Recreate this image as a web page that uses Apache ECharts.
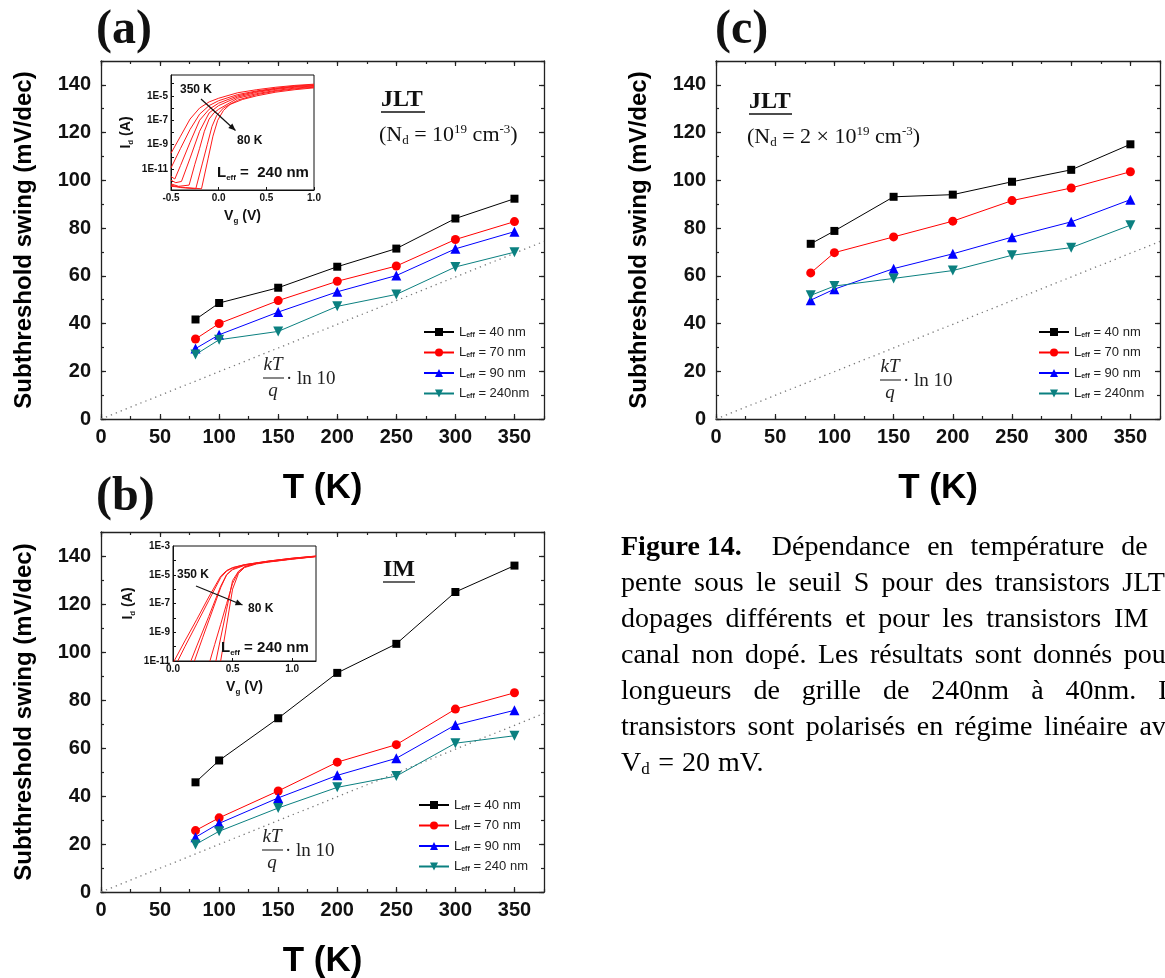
<!DOCTYPE html>
<html><head><meta charset="utf-8">
<script src="https://cdn.jsdelivr.net/npm/echarts@6/dist/echarts.min.js"></script>
<style>html,body{margin:0;padding:0;background:#fff}#c{width:1165px;height:978px}</style>
</head><body><div id="c"></div>
<script>
// ---------------- DATA ----------------
const T = [80, 100, 150, 200, 250, 300, 350];
// panel (a) JLT Nd=1e19
const a_L40  = [41.7, 48.6, 55.0, 63.8, 71.4, 84.0, 92.3];
const a_L70  = [33.5, 40.0, 49.6, 57.7, 64.1, 75.2, 82.7];
const a_L90  = [29.5, 35.3, 44.8, 53.3, 60.1, 71.3, 78.5];
const a_L240 = [27.0, 33.2, 36.7, 47.2, 52.2, 63.7, 69.9];
// panel (b) IM
const b_L40  = [45.7, 54.8, 72.4, 91.3, 103.4, 125.0, 136.0];
const b_L70  = [25.6, 30.9, 42.1, 54.1, 61.4, 76.2, 83.0];
const b_L90  = [22.8, 28.6, 39.2, 48.6, 55.7, 69.6, 75.7];
const b_L240 = [19.8, 25.3, 35.0, 43.6, 48.3, 62.0, 65.1];
// panel (c) JLT Nd=2e19
const c_L40  = [73.4, 78.8, 93.1, 94.0, 99.4, 104.4, 115.1];
const c_L70  = [61.2, 69.7, 76.3, 82.9, 91.5, 96.8, 103.6];
const c_L90  = [49.8, 54.4, 63.0, 69.2, 76.2, 82.6, 91.9];
const c_L240 = [51.8, 55.7, 58.9, 62.2, 68.6, 71.8, 81.2];
// kT/q ln10 reference line (end points)
const kTLine = [[0, 0], [375, 74.4]];
// legend labels
const legendA = ['40 nm', '70 nm', '90 nm', '240nm'];
const legendB = ['40 nm', '70 nm', '90 nm', '240 nm'];
const legendC = ['40 nm', '70 nm', '90 nm', '240nm'];
// main axis ticks
const xTicks = [0, 50, 100, 150, 200, 250, 300, 350];
const yTicks = [0, 20, 40, 60, 80, 100, 120, 140];
// inset (a): Id-Vg, JLT, [Vg (V), log10 Id (A)]
const insA_350 = [[-0.5,-9.7],[-0.4,-8.3],[-0.3,-6.9],[-0.2,-6.0],[-0.1,-5.5],[0,-5.2],[0.2,-4.75],[0.4,-4.5],[0.6,-4.3],[0.8,-4.15],[1.0,-4.05]];
const insA_300 = [[-0.5,-10.9],[-0.4,-9.3],[-0.3,-7.75],[-0.2,-6.5],[-0.1,-5.8],[0,-5.4],[0.2,-4.9],[0.4,-4.6],[0.6,-4.38],[0.8,-4.2],[1.0,-4.1]];
const insA_250 = [[-0.5,-11.6],[-0.46,-11.8],[-0.4,-10.7],[-0.3,-8.8],[-0.2,-7.0],[-0.1,-6.1],[0,-5.6],[0.2,-5.0],[0.4,-4.65],[0.6,-4.42],[0.8,-4.25],[1.0,-4.15]];
const insA_200 = [[-0.5,-11.9],[-0.45,-12.1],[-0.39,-12.0],[-0.3,-10.1],[-0.2,-7.9],[-0.1,-6.4],[0,-5.8],[0.2,-5.1],[0.4,-4.72],[0.6,-4.47],[0.8,-4.3],[1.0,-4.2]];
const insA_150 = [[-0.5,-12.2],[-0.42,-12.4],[-0.31,-12.3],[-0.25,-10.6],[-0.2,-9.3],[-0.15,-7.9],[-0.1,-6.9],[-0.05,-6.4],[0,-6.1],[0.2,-5.2],[0.4,-4.82],[0.6,-4.56],[0.8,-4.37],[1.0,-4.25]];
const insA_100 = [[-0.5,-12.3],[-0.4,-12.5],[-0.24,-12.6],[-0.17,-10.5],[-0.12,-9.0],[-0.07,-7.5],[-0.02,-6.6],[0.05,-6.0],[0.2,-5.35],[0.4,-4.9],[0.6,-4.62],[0.8,-4.43],[1.0,-4.3]];
const insA_80  = [[-0.5,-12.4],[-0.35,-12.5],[-0.18,-12.6],[-0.11,-10.1],[-0.06,-8.3],[-0.01,-7.0],[0.05,-6.2],[0.12,-5.7],[0.25,-5.3],[0.4,-5.0],[0.6,-4.7],[0.8,-4.5],[1.0,-4.35]];
// inset (b): Id-Vg, IM
const insB_350 = [[0,-11.15],[0.1,-9.6],[0.2,-8.1],[0.3,-6.55],[0.4,-5.1],[0.45,-4.7],[0.5,-4.5],[0.6,-4.3],[0.8,-4.05],[1.0,-3.85],[1.2,-3.7]];
const insB_300 = [[0.04,-11],[0.1,-10.0],[0.2,-8.4],[0.3,-6.8],[0.4,-5.2],[0.45,-4.75],[0.5,-4.52],[0.6,-4.3],[0.8,-4.05],[1.0,-3.85],[1.2,-3.7]];
const insB_250 = [[0.15,-11],[0.2,-9.95],[0.3,-7.9],[0.4,-5.8],[0.45,-5.0],[0.5,-4.6],[0.6,-4.32],[0.8,-4.07],[1.0,-3.87],[1.2,-3.72]];
const insB_200 = [[0.18,-11],[0.25,-9.35],[0.3,-8.2],[0.4,-5.9],[0.45,-5.0],[0.5,-4.65],[0.6,-4.35],[0.8,-4.08],[1.0,-3.88],[1.2,-3.72]];
const insB_150 = [[0.31,-11],[0.35,-9.85],[0.4,-8.45],[0.45,-7.0],[0.5,-5.6],[0.55,-4.8],[0.6,-4.45],[0.7,-4.2],[0.8,-4.1],[1.0,-3.9],[1.2,-3.73]];
const insB_100 = [[0.36,-11],[0.4,-9.4],[0.45,-7.4],[0.5,-5.4],[0.55,-4.75],[0.6,-4.45],[0.7,-4.22],[0.8,-4.1],[1.0,-3.9],[1.2,-3.73]];
const insB_80  = [[0.40,-11],[0.45,-8.5],[0.5,-6.0],[0.55,-4.9],[0.6,-4.5],[0.7,-4.25],[0.8,-4.12],[1.0,-3.92],[1.2,-3.74]];
const insA_xTicks = [-0.5, 0, 0.5, 1.0];
const insA_yTicks = [-11, -9, -7, -5];
const insA_yMinor = [-12, -11, -10, -9, -8, -7, -6, -5, -4];
const insB_xTicks = [0, 0.5, 1.0];
const insB_yTicks = [-11, -9, -7, -5, -3];
const insB_yMinor = [-10, -9, -8, -7, -6, -5, -4];
// caption
const captionLines = [
  'Dépendance en température de',
  'pente sous le seuil S pour des transistors JLT',
  'dopages différents et pour les transistors IM',
  'canal non dopé. Les résultats sont donnés pour',
  'longueurs de grille de 240nm à 40nm. Les',
  'transistors sont polarisés en régime linéaire avec',
  '= 20 mV.'
];

// ---------------- STYLE / LAYOUT ----------------
const SANS = '"Liberation Sans", Arial, sans-serif';
const SERIF = '"Liberation Serif", "Times New Roman", serif';
const AX = '#222';
const COLORS = ['#000000', '#ff0000', '#0000ff', '#0b8080'];
const SYMBOLS = ['rect', 'circle', 'triangle', 'path://M0,0 L10,0 L5,9 Z'];
const SIZES = [8, 9, 10, 10];

const mainGrids = [
  {left: 101, top: 61, width: 443, height: 358},
  {left: 101, top: 532, width: 443, height: 360},
  {left: 716, top: 61, width: 444, height: 358}
];
const insetGrids = [
  {left: 171, top: 75, width: 143, height: 115},
  {left: 173, top: 546, width: 143, height: 115}
];
const grid = mainGrids.map(g => Object.assign({containLabel: false, outerBoundsMode: 'none', show: false}, g))
  .concat(insetGrids.map(g => Object.assign({containLabel: false, outerBoundsMode: 'none', show: true,
     backgroundColor: '#fff', borderColor: '#111', borderWidth: 1}, g)));

const xAxis = [], yAxis = [];
const labelFont = {fontSize: 20, fontWeight: 'bold', color: '#111', fontFamily: SANS};
mainGrids.forEach((g, gi) => {
  const line = {show: true, onZero: false, lineStyle: {color: AX, width: 1.3}};
  const noLine = {show: false, onZero: false};
  const base = {gridIndex: gi, type: 'value', splitLine: {show: false}};
  const xb = Object.assign({}, base, {min: 0, max: 375});
  const yb = Object.assign({}, base, {min: 0, max: 150});
  xAxis.push(Object.assign({}, xb, {position: 'bottom', axisLine: line,
    axisTick: {show: true, inside: true, length: 5, customValues: xTicks, lineStyle: {color: AX, width: 1.2}},
    axisLabel: Object.assign({show: true, customValues: xTicks, margin: 8}, labelFont),
    name: 'T (K)', nameLocation: 'middle', nameGap: 52,
    nameTextStyle: {fontSize: 35, fontWeight: 'bold', color: '#000', fontFamily: SANS}}));
  xAxis.push(Object.assign({}, xb, {position: 'bottom', interval: 25, axisLine: noLine,
    axisTick: {show: true, inside: true, length: 3, lineStyle: {color: AX, width: 1.2}}, axisLabel: {show: false}}));
  xAxis.push(Object.assign({}, xb, {position: 'top', axisLine: line,
    axisTick: {show: true, inside: true, length: 5, customValues: xTicks, lineStyle: {color: AX, width: 1.2}}, axisLabel: {show: false}}));
  xAxis.push(Object.assign({}, xb, {position: 'top', interval: 25, axisLine: noLine,
    axisTick: {show: true, inside: true, length: 3, lineStyle: {color: AX, width: 1.2}}, axisLabel: {show: false}}));

  yAxis.push(Object.assign({}, yb, {position: 'left', axisLine: line,
    axisTick: {show: true, inside: true, length: 5, customValues: yTicks, lineStyle: {color: AX, width: 1.2}},
    axisLabel: Object.assign({show: true, customValues: yTicks, margin: 10}, labelFont),
    name: 'Subthreshold swing (mV/dec)', nameLocation: 'middle', nameGap: 65, nameRotate: 90,
    nameTextStyle: {fontSize: 24, fontWeight: 'bold', color: '#000', fontFamily: SANS}}));
  yAxis.push(Object.assign({}, yb, {position: 'left', interval: 10, axisLine: noLine,
    axisTick: {show: true, inside: true, length: 3, lineStyle: {color: AX, width: 1.2}}, axisLabel: {show: false}}));
  yAxis.push(Object.assign({}, yb, {position: 'right', axisLine: line,
    axisTick: {show: true, inside: true, length: 5, customValues: yTicks, lineStyle: {color: AX, width: 1.2}}, axisLabel: {show: false}}));
  yAxis.push(Object.assign({}, yb, {position: 'right', interval: 10, axisLine: noLine,
    axisTick: {show: true, inside: true, length: 3, lineStyle: {color: AX, width: 1.2}}, axisLabel: {show: false}}));
});

const insetName = (a, b, c) => '{m|' + a + '}{s|' + b + '}{m|' + c + '}';
const insetNameStyle = {color: '#111', fontFamily: SANS, rich: {
  m: {fontSize: 14, fontWeight: 'bold', fontFamily: SANS, color: '#111', lineHeight: 18},
  s: {fontSize: 8, fontWeight: 'bold', fontFamily: SANS, color: '#111', lineHeight: 8, verticalAlign: 'bottom'}}};
const insetLbl = {fontSize: 10, fontWeight: 'bold', color: '#111', fontFamily: SANS, margin: 3};
function insetAxes(gi, xr, yr, xt, yt, ym) {
  xAxis.push({gridIndex: gi, type: 'value', min: xr[0], max: xr[1], position: 'bottom', splitLine: {show: false},
    axisLine: {show: true, onZero: false, lineStyle: {color: '#111', width: 1}},
    axisTick: {show: true, inside: true, length: 3, customValues: xt, lineStyle: {color: '#111'}},
    axisLabel: Object.assign({show: true, customValues: xt, formatter: v => Number(v).toFixed(1)}, insetLbl),
    name: insetName('V', 'g', ' (V)'), nameLocation: 'middle', nameGap: 17, nameTextStyle: insetNameStyle});
  yAxis.push({gridIndex: gi, type: 'value', min: yr[0], max: yr[1], position: 'left', splitLine: {show: false},
    axisLine: {show: true, onZero: false, lineStyle: {color: '#111', width: 1}},
    axisTick: {show: true, inside: true, length: 3, customValues: ym, lineStyle: {color: '#111'}},
    axisLabel: Object.assign({show: true, customValues: yt, formatter: v => '1E' + v}, insetLbl),
    name: insetName('I', 'd', ' (A)'), nameLocation: 'middle', nameGap: 36, nameRotate: 90, nameTextStyle: insetNameStyle});
}
insetAxes(3, [-0.5, 1.0], [-12.7, -3.3], insA_xTicks, insA_yTicks, insA_yMinor);
insetAxes(4, [0, 1.2], [-11, -3], insB_xTicks, insB_yTicks, insB_yMinor);

// ---------------- SERIES ----------------
const series = [];
const panels = [
  {p: 'a', sets: [a_L40, a_L70, a_L90, a_L240], labels: legendA},
  {p: 'b', sets: [b_L40, b_L70, b_L90, b_L240], labels: legendB},
  {p: 'c', sets: [c_L40, c_L70, c_L90, c_L240], labels: legendC}
];
panels.forEach((pn, gi) => {
  series.push({type: 'line', name: pn.p + '-kT', xAxisIndex: gi * 4, yAxisIndex: gi * 4, data: kTLine,
    symbol: 'none', silent: true, z: 1, lineStyle: {color: '#7a7a7a', width: 1.3, type: [1.3, 4]}});
  pn.sets.forEach((vals, k) => {
    series.push({type: 'line', name: pn.p + '|' + pn.labels[k], xAxisIndex: gi * 4, yAxisIndex: gi * 4,
      data: T.map((t, i) => [t, vals[i]]), symbol: SYMBOLS[k], symbolSize: SIZES[k], showSymbol: true,
      lineStyle: {color: COLORS[k], width: 1}, itemStyle: {color: COLORS[k], borderWidth: 0}, z: 3 + k});
  });
});
[insA_350, insA_300, insA_250, insA_200, insA_150, insA_100, insA_80].forEach((d, i) => series.push({
  type: 'line', name: 'insA' + i, xAxisIndex: 12, yAxisIndex: 12, data: d, symbol: 'none', silent: true,
  lineStyle: {color: '#ff1a1a', width: 1}, z: 5}));
[insB_350, insB_300, insB_250, insB_200, insB_150, insB_100, insB_80].forEach((d, i) => series.push({
  type: 'line', name: 'insB' + i, xAxisIndex: 13, yAxisIndex: 13, data: d, symbol: 'none', silent: true,
  lineStyle: {color: '#ff1a1a', width: 1}, z: 5}));

// ---------------- LEGENDS ----------------
const legRich = {
  l: {fontSize: 13, fontFamily: SANS, color: '#222', lineHeight: 13},
  s: {fontSize: 7, fontFamily: SANS, color: '#222', lineHeight: 7, verticalAlign: 'bottom', fontWeight: 'bold'}
};
function legend(p, labels, left, top) {
  return {orient: 'vertical', left: left, top: top, padding: 0, itemWidth: 30, itemHeight: 10, itemGap: 7.5,
    selectedMode: false, data: labels.map(l => p + '|' + l),
    formatter: n => '{l|L}{s|eff}{l| = ' + n.split('|')[1] + '}',
    textStyle: {color: '#222', fontFamily: SANS, fontSize: 13, rich: legRich}};
}
const legends = [legend('a', legendA, 423, 325.5), legend('b', legendB, 418, 798.5), legend('c', legendC, 1038, 325.5)];

// ---------------- ANNOTATIONS ----------------
const graphic = [];
function txt(x, y, text, font, opts) {
  graphic.push({type: 'text', z: 100, style: Object.assign({x: x, y: y, text: text, font: font, fill: '#111',
    align: 'left', verticalAlign: 'middle'}, opts || {})});
}
function seg(x1, y1, x2, y2, w) {
  graphic.push({type: 'line', z: 100, shape: {x1, y1, x2, y2}, style: {stroke: '#111', lineWidth: w || 1}});
}
function arrow(x1, y1, x2, y2) {
  seg(x1, y1, x2, y2, 1.2);
  const a = Math.atan2(y2 - y1, x2 - x1), L = 7, W = 3;
  const bx = x2 - L * Math.cos(a), by = y2 - L * Math.sin(a);
  graphic.push({type: 'polygon', z: 100, shape: {points: [[x2, y2],
    [bx + W * Math.sin(a), by - W * Math.cos(a)], [bx - W * Math.sin(a), by + W * Math.cos(a)]]}, style: {fill: '#111'}});
}
// panel labels
txt(96, 31, '(a)', 'bold 48px ' + SERIF);
txt(96, 498, '(b)', 'bold 48px ' + SERIF);
txt(715, 31, '(c)', 'bold 48px ' + SERIF);
// device labels
txt(381, 100, 'JLT', 'bold 24px ' + SERIF); seg(381, 112, 425, 112, 1.3);
txt(383, 570, 'IM', 'bold 24px ' + SERIF); seg(383, 582, 415, 582, 1.3);
txt(749, 102, 'JLT', 'bold 24px ' + SERIF); seg(749, 114, 792, 114, 1.3);
const ndRich = {
  m: {fontSize: 22, fontFamily: SERIF, color: '#222', lineHeight: 24},
  b: {fontSize: 13, fontFamily: SERIF, color: '#222', lineHeight: 10, verticalAlign: 'bottom'},
  p: {fontSize: 13, fontFamily: SERIF, color: '#222', lineHeight: 12, verticalAlign: 'top'}
};
txt(379, 135, '{m|(N}{b|d}{m| = 10}{p|19}{m| cm}{p|-3}{m|)}', '22px ' + SERIF, {rich: ndRich});
txt(747, 137, '{m|(N}{b|d}{m| = 2 × 10}{p|19}{m| cm}{p|-3}{m|)}', '22px ' + SERIF, {rich: ndRich});
// kT/q ln10 labels
function ktq(cx, cy) {
  txt(cx, cy - 13, 'kT', 'italic 19px ' + SERIF, {align: 'center', fill: '#222'});
  seg(cx - 10, cy, cx + 11, cy, 1);
  txt(cx, cy + 13, 'q', 'italic 19px ' + SERIF, {align: 'center', fill: '#222'});
  txt(cx + 13, cy + 1, '· ln 10', '19px ' + SERIF, {fill: '#222'});
}
ktq(273, 378); ktq(272, 850); ktq(890, 380);
// inset annotations
const annRich = {
  m: {fontSize: 15, fontWeight: 'bold', fontFamily: SANS, color: '#111', lineHeight: 18},
  s: {fontSize: 8, fontWeight: 'bold', fontFamily: SANS, color: '#111', lineHeight: 8, verticalAlign: 'bottom'}
};
txt(180, 90, '350 K', 'bold 12px ' + SANS);
txt(237, 141, '80 K', 'bold 12px ' + SANS);
arrow(201, 99, 235.5, 130.5);
txt(217, 173, '{m|L}{s|eff}{m| =  240 nm}', 'bold 15px ' + SANS, {rich: annRich});
txt(177, 575, '350 K', 'bold 12px ' + SANS);
txt(248, 609, '80 K', 'bold 12px ' + SANS);
arrow(196, 586, 242.5, 605);
txt(221, 648, '{m|L}{s|eff}{m| = 240 nm}', 'bold 15px ' + SANS, {rich: annRich});

// caption (justified lines laid out word by word)
const capFont = '28px ' + SERIF;
const capBold = 'bold 28px ' + SERIF;
const capX = 621, capY0 = 548, capDY = 35.9;
const capGaps = [17, 12.3, 12.8, 11.5, 22, 11.5, 8];
const mctx = document.createElement('canvas').getContext('2d');
captionLines.forEach((line, i) => {
  let x = capX;
  const y = capY0 + i * capDY;
  if (i === 0) {
    txt(x, y, 'Figure 14.', capBold, {fill: '#000'});
    mctx.font = capBold; x += mctx.measureText('Figure 14.').width + capGaps[0] + 13;
  }
  if (i === 6) {
    txt(x, y, '{m|V}{s|d}', capFont, {fill: '#000', rich: {
      m: {fontSize: 28, fontFamily: SERIF, color: '#000', lineHeight: 30},
      s: {fontSize: 17, fontFamily: SERIF, color: '#000', lineHeight: 17, verticalAlign: 'bottom'}}});
    mctx.font = capFont; x += mctx.measureText('V').width + 9 + capGaps[6];
  }
  mctx.font = capFont;
  line.split(' ').forEach(w => {
    txt(x, y, w, capFont, {fill: '#000'});
    x += mctx.measureText(w).width + capGaps[i];
  });
});

const chart = echarts.init(document.getElementById('c'), null, {renderer: 'canvas'});
chart.setOption({
  animation: false, backgroundColor: '#fff',
  grid: grid, xAxis: xAxis, yAxis: yAxis, series: series, legend: legends, graphic: graphic
});
</script></body></html>
